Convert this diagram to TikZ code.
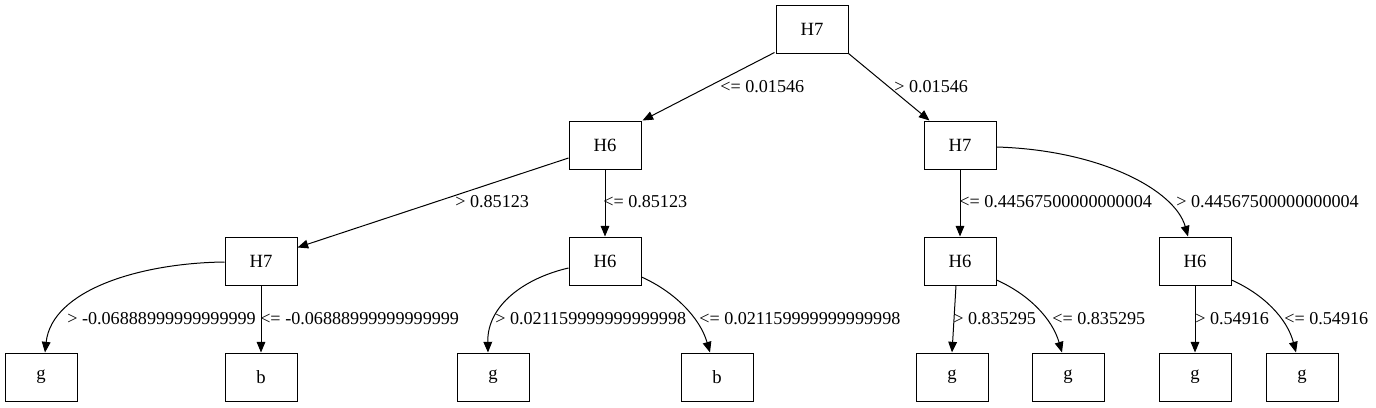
\documentclass[tikz,border=0pt]{standalone}
\usepackage{fontspec}
\setmainfont{Liberation Serif}
\usetikzlibrary{arrows.meta,calc}
\tikzset{
  box/.style={draw=black, line width=0.75pt, minimum width=54pt, minimum height=36pt, inner sep=0pt, font=\fontsize{14}{16}\selectfont},
  lbl/.style={anchor=west, inner sep=0pt, font=\fontsize{13.6}{16}\selectfont},
  conn/.style={line width=0.75pt, -{Triangle[length=8pt,width=6.5pt]}},
}
\begin{document}
\begin{tikzpicture}[x=0.75pt,y=-0.75pt]
\useasboundingbox (0,0) rectangle (1376,407);
% nodes
\node[box] (r) at (812,29) {H7};
\node[box] (a) at (605,145) {H6};
\node[box] (b) at (960,145) {H7};
\node[box] (aa) at (261,261) {H7};
\node[box] (ab) at (605,261) {H6};
\node[box] (ba) at (960,261) {H6};
\node[box] (bb) at (1195,261) {H6};
\node[box] (l1) at (41,377) {g};
\node[box] (l2) at (261,377) {b};
\node[box] (l3) at (493,377) {g};
\node[box] (l4) at (717,377) {b};
\node[box] (l5) at (952,377) {g};
\node[box] (l6) at (1068,377) {g};
\node[box] (l7) at (1195,377) {g};
\node[box] (l8) at (1302,377) {g};
% connectors
\draw[conn] ($(r.south west)+(-1,-1)$) -- ($(a.north east)+(1,0)$);
\draw[conn] ($(r.south east)+(0,0)$) -- ($(b.north west)+(6,0)$);
\draw[conn] ($(a.west)+(0,13)$) -- ($(aa.north east)+(0,11)$);
\draw[conn] (a.south) -- (ab.north);
\draw[conn] (b.south) -- (ba.north);
\draw[conn] ($(b.east)+(0,2)$) .. controls (1100,150) and (1175,190) .. ($(bb.north)+(-7,0)$);
\draw[conn] ($(aa.west)+(0,1)$) .. controls (140,263) and (52,290) .. ($(l1.north)+(4,0)$);
\draw[conn] (aa.south) -- (l2.north);
\draw[conn] ($(ab.west)+(0,7)$) .. controls (525,278) and (487,305) .. ($(l3.north)+(-5,0)$);
\draw[conn] ($(ab.east)+(0,16)$) .. controls (675,292) and (700,318) .. ($(l4.north)+(-7,0)$);
\draw[conn] ($(ba.south)+(-4,0)$) -- (l5.north);
\draw[conn] ($(ba.east)+(0,19)$) .. controls (1028,294) and (1052,318) .. ($(l6.north)+(-6,0)$);
\draw[conn] (bb.south) -- (l7.north);
\draw[conn] ($(bb.east)+(0,19)$) .. controls (1263,294) and (1287,318) .. ($(l8.north)+(-6,0)$);
% labels
\node[lbl] (t1) at (720,87) {<= 0.01546};
\node[lbl] (t2) at (894,87) {> 0.01546};
\node[lbl] (t3) at (455,202) {> 0.85123};
\node[lbl] (t4) at (603,202) {<= 0.85123};
\node[lbl] (t5) at (959,202) {<= 0.44567500000000004};
\node[lbl] (t6) at (1176,202) {> 0.44567500000000004};
\node[lbl] (t7) at (67,319) {> -0.06888999999999999};
\node[lbl] (t8) at (260,319) {<= -0.06888999999999999};
\node[lbl] (t9) at (495,319) {> 0.021159999999999998};
\node[lbl] (t10) at (699,319) {<= 0.021159999999999998};
\node[lbl] (t11) at (953,319) {> 0.835295};
\node[lbl] (t12) at (1052,319) {<= 0.835295};
\node[lbl] (t13) at (1195,319) {> 0.54916};
\node[lbl] (t14) at (1284,319) {<= 0.54916};
\end{tikzpicture}
\end{document}
